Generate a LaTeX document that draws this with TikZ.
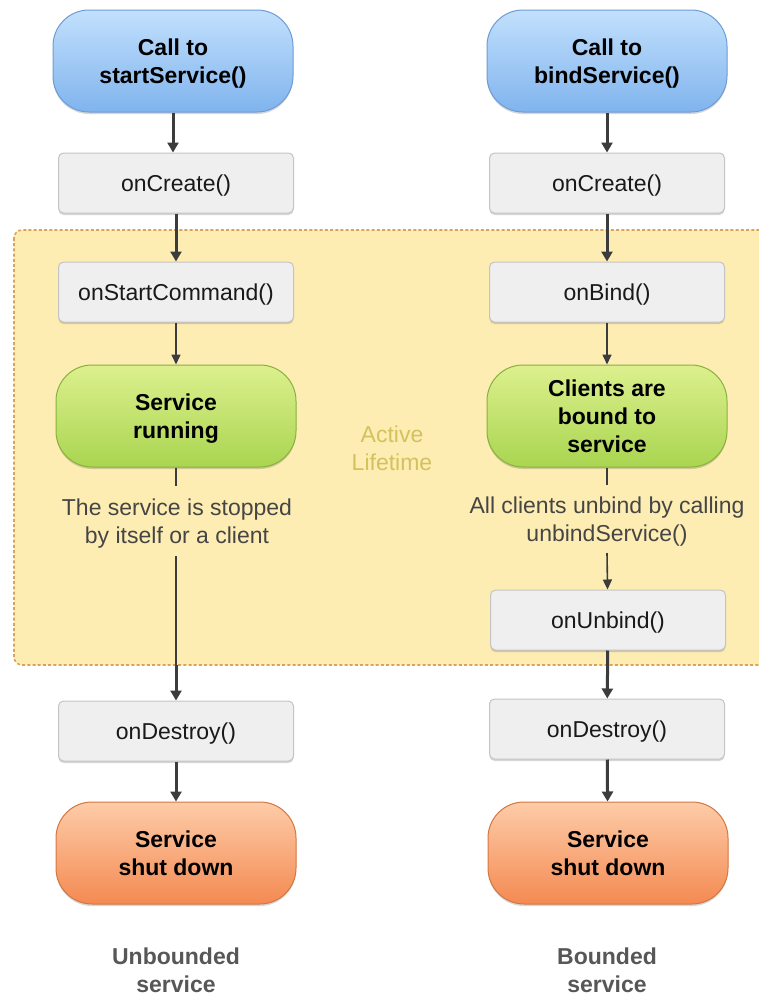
\documentclass[tikz,border=0pt]{standalone}
\usepackage{fontspec}
\setmainfont{Liberation Sans}
\usetikzlibrary{arrows.meta,shadows}

\definecolor{arrowgray}{HTML}{3C3C3C}
\definecolor{boxfill}{HTML}{EFEFEF}
\definecolor{boxline}{HTML}{C4C4C4}
\definecolor{bluetop}{HTML}{C2E0FC}
\definecolor{bluebot}{HTML}{80B4EE}
\definecolor{blueline}{HTML}{6F9BD6}
\definecolor{greentop}{HTML}{DDF08E}
\definecolor{greenbot}{HTML}{A9D550}
\definecolor{greenline}{HTML}{88B23E}
\definecolor{orangetop}{HTML}{FDCCA8}
\definecolor{orangebot}{HTML}{F48A52}
\definecolor{orangeline}{HTML}{D5773F}
\definecolor{zonefill}{HTML}{FDEDB3}
\definecolor{zoneline}{HTML}{D9A35C}
\definecolor{zonetext}{HTML}{D2C25E}
\definecolor{notetext}{HTML}{454545}
\definecolor{captext}{HTML}{575757}

\tikzset{
  basefont/.style={font=\fontsize{23}{28}\selectfont},
  boldfont/.style={font=\fontsize{23}{28}\selectfont\bfseries},
  softshadow/.style={general shadow={fill=black, opacity=.16, shadow yshift=-2pt}},
  callbox/.style={boldfont, align=center, text=black, draw=#1line, line width=1pt,
    top color=#1top, bottom color=#1bot, rounded corners=36pt,
    minimum width=240pt, minimum height=102pt, inner sep=0pt, softshadow},
  methodbox/.style={basefont, text=black!90, draw=boxline, line width=1pt, fill=boxfill,
    rounded corners=5pt, minimum width=235pt, minimum height=60pt, inner sep=0pt,
    text depth=0pt, softshadow},
  notetextstyle/.style={basefont, align=center, text=notetext},
  captionstyle/.style={boldfont, align=center, text=captext},
  heavyarrow/.style={draw=arrowgray, line width=3pt, -{Triangle[width=11pt,length=10pt]}},
  lightarrow/.style={draw=arrowgray, line width=1.6pt, -{Triangle[width=9pt,length=10pt]}},
  lightline/.style={draw=arrowgray, line width=1.6pt},
  zone/.style={fill=zonefill, draw=zoneline, line width=1.6pt, dash pattern=on 3pt off 2.2pt, rounded corners=8pt}
}

\begin{document}
\begin{tikzpicture}[x=1pt,y=-1pt]
\useasboundingbox (0,0) rectangle (759,996);
\fill[white] (0,0) rectangle (759,996);

% active lifetime zone, running off the right edge
\begin{scope}
  \clip (0,0) rectangle (759,996);
  \draw[zone] (14,230) rectangle (780,665);
\end{scope}
\node[basefont, align=center, text=zonetext] (life) at (392,448) {Active\\Lifetime};

% unbounded service column (last lines smashed so descenders do not lift the text)
\node[callbox=blue]   (startL)   at (173,61)  {Call to\\\smash{startService()}};
\node[methodbox]      (createL)  at (176,183) {onCreate()};
\node[methodbox]      (cmdL)     at (176,292) {onStartCommand()};
\node[callbox=green]  (runL)     at (176,416) {Service\\\smash{running}};
\node[notetextstyle]  (noteL)    at (177,521) {The service is stopped\\\smash{by itself or a client}};
\node[methodbox]      (destroyL) at (176,731) {onDestroy()};
\node[callbox=orange] (downL)    at (176,853) {Service\\shut down};
\node[captionstyle]   (capL)     at (176,970) {Unbounded\\service};

% bounded service column
\node[callbox=blue]   (startR)   at (607,61)  {Call to\\\smash{bindService()}};
\node[methodbox]      (createR)  at (607,183) {onCreate()};
\node[methodbox]      (bindR)    at (607,292) {onBind()};
\node[callbox=green]  (runR)     at (607,416) {Clients are\\bound to\\service};
\node[notetextstyle]  (noteR)    at (607,519) {All clients unbind by calling\\\smash{unbindService()}};
\node[methodbox]      (unbindR)  at (608,620) {onUnbind()};
\node[methodbox]      (destroyR) at (607,729) {onDestroy()};
\node[callbox=orange] (downR)    at (608,853) {Service\\shut down};
\node[captionstyle]   (capR)     at (607,970) {Bounded\\service};

% free ends around the notes and on the zone border
\coordinate (gapLa) at (176,486);
\coordinate (gapLb) at (176,556);
\coordinate (edgeL) at (176,665);
\coordinate (gapRa) at (607,485);
\coordinate (gapRb) at (607,553);

% connectors, left column
\draw[heavyarrow] (startL) -- (startL |- createL.north);
\draw[heavyarrow] (createL) -- (cmdL);
\draw[lightarrow] (cmdL) -- (runL);
\draw[lightline]  (runL) -- (gapLa);
\draw[lightline]  (gapLb) -- (edgeL);
\draw[heavyarrow] (edgeL) -- (destroyL);
\draw[heavyarrow] (destroyL) -- (downL);

% connectors, right column
\draw[heavyarrow] (startR) -- (createR);
\draw[heavyarrow] (createR) -- (bindR);
\draw[lightarrow] (bindR) -- (runR);
\draw[lightline]  (runR) -- (gapRa);
\draw[lightarrow] (gapRb) -- (unbindR);
\draw[heavyarrow] (unbindR) -- (destroyR);
\draw[heavyarrow] (destroyR) -- (downR);
\end{tikzpicture}
\end{document}
